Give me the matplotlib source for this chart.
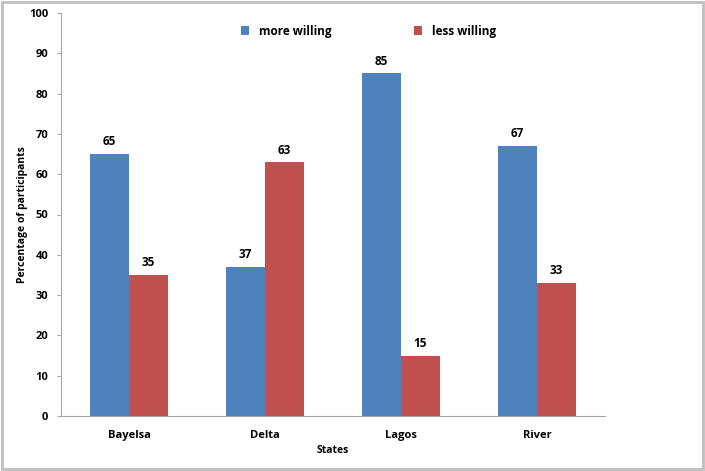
import numpy as np
from matplotlib import pyplot
from matplotlib.patches import Rectangle

states = ['Bayelsa', 'Delta', 'Lagos', 'River']
more_willing = [65, 37, 85, 67]
less_willing = [35, 63, 15, 33]

blue = '#4F81BD'
red = '#C0504D'

pyplot.rc('font', family='Open Sans', weight='bold', size=8)
pyplot.rc('axes', labelweight='bold')
fig = pyplot.figure(figsize=(7.05, 4.71), dpi=100)
ax = fig.add_axes([61 / 705, 55 / 471, 544 / 705, 403 / 471])

x = np.arange(len(states))
w = 0.285
b1 = ax.bar(x - w / 2, more_willing, w, color=blue, label='more willing')
b2 = ax.bar(x + w / 2, less_willing, w, color=red, label='less willing')
for bars in (b1, b2):
    ax.bar_label(bars, padding=4, fontsize=8.5, fontweight='bold')

ax.set_xlim(-0.5, len(states) - 0.5)
ax.set_ylim(0, 100)
ax.set_yticks(range(0, 101, 10))
ax.set_xticks(x)
ax.set_xticklabels(states)
ax.tick_params(axis='x', length=0, pad=10)
ax.tick_params(axis='y', length=3, color='#A6A6A6', pad=6)
for s in ('top', 'right'):
    ax.spines[s].set_visible(False)
for s in ('left', 'bottom'):
    ax.spines[s].set_color('#A6A6A6')
ax.set_ylabel('Percentage of participants', fontsize=7.5, labelpad=1)
ax.set_xlabel('States', fontsize=7.5, labelpad=3)

ax.legend(loc='center', bbox_to_anchor=(0.565, 0.955), ncol=2, frameon=False,
          handlelength=0.7, handleheight=0.7, columnspacing=7, fontsize=8.5)

fig.patches.append(Rectangle((0.003, 0.005), 0.994, 0.99, transform=fig.transFigure,
                             fill=False, edgecolor='#BFBFBF', linewidth=2))

fig.savefig('out.png', dpi=100)
